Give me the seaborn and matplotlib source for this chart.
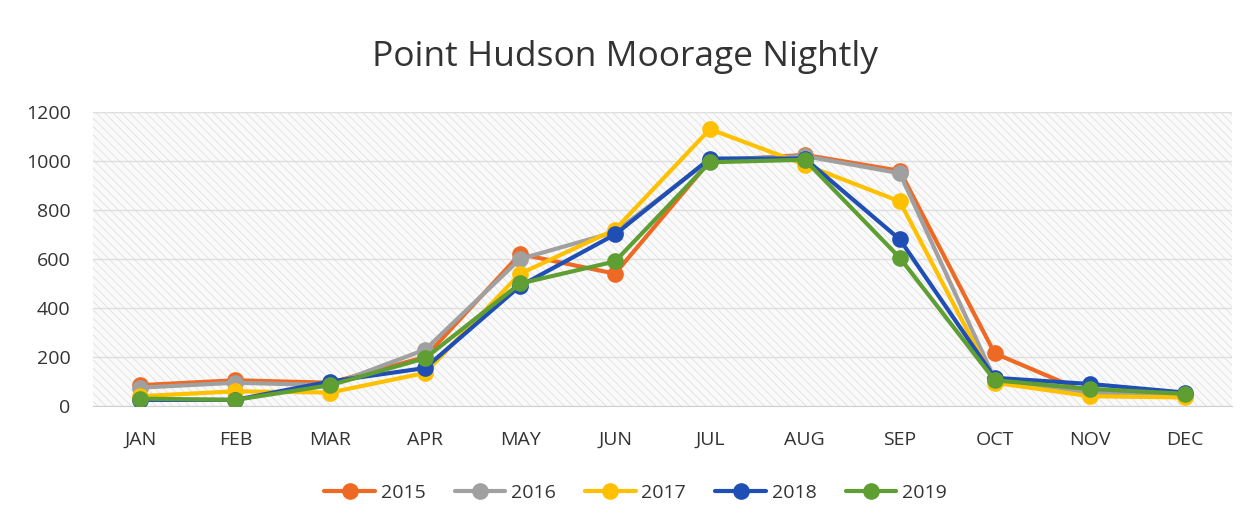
import pandas as pd
import matplotlib.pyplot as plt
import seaborn as sns
from matplotlib.patches import Rectangle

# Monthly nightly moorage counts
months = ['JAN', 'FEB', 'MAR', 'APR', 'MAY', 'JUN', 'JUL', 'AUG', 'SEP', 'OCT', 'NOV', 'DEC']
y2015 = [85, 105, 95, 200, 620, 540, 1000, 1025, 960, 215, 50, 45]
y2016 = [75, 95, 85, 230, 600, 710, 1005, 1020, 950, 110, 55, 45]
y2017 = [40, 60, 55, 135, 540, 720, 1130, 985, 835, 95, 40, 35]
y2018 = [25, 25, 100, 155, 490, 700, 1010, 1010, 680, 115, 90, 55]
y2019 = [30, 25, 85, 195, 500, 590, 995, 1005, 605, 105, 70, 50]
years = ['2015', '2016', '2017', '2018', '2019']
colors = ['#EE6A24', '#A0A0A0', '#FFC000', '#1F4FB5', '#5E9E32']

rows = []
for yr, vals in zip(years, [y2015, y2016, y2017, y2018, y2019]):
    for m, v in zip(months, vals):
        rows.append({'Month': m, 'Year': yr, 'Nights': v})
df = pd.DataFrame(rows)

sns.set_style('white')
plt.rcParams['font.family'] = ['Open Sans', 'DejaVu Sans']
plt.rcParams['hatch.linewidth'] = 0.6

fig = plt.figure(figsize=(12.51, 5.29), dpi=100)
ax = fig.add_axes([0.0743, 0.2325, 0.9105, 0.5558])

# hatched plot background like the scanned chart
ax.add_patch(Rectangle((0, 0), 1, 1, transform=ax.transAxes, facecolor='#fafafa',
                       edgecolor='#e0e0e0', hatch='\\\\\\\\', linewidth=0, zorder=0))

sns.lineplot(data=df, x='Month', y='Nights', hue='Year', palette=colors,
             marker='o', markersize=12, markeredgewidth=0, linewidth=3,
             sort=False, ax=ax, legend=False, zorder=3)

ax.set_xlim(-0.5, len(months) - 0.5)
ax.set_ylim(0, 1200)
ax.set_yticks(range(0, 1201, 200))
ax.yaxis.grid(True, color='#dedede', linewidth=1)
ax.set_axisbelow(True)
for s in ['top', 'right', 'left']:
    ax.spines[s].set_visible(False)
ax.spines['bottom'].set_color('#d0d0d0')
ax.set_xlabel('')
ax.set_ylabel('')
ax.tick_params(axis='both', length=0, labelsize=14, colors='#333333')
ax.tick_params(axis='x', pad=18)
ax.tick_params(axis='y', pad=16)

fig.suptitle('Point Hudson Moorage Nightly', fontsize=25.5, y=0.925, color='#333333')

handles = [plt.Line2D([], [], color=c, marker='o', markersize=12, linewidth=3,
                      markeredgewidth=0) for c in colors]
fig.legend(handles, years, loc='center', bbox_to_anchor=(0.508, 0.068), ncol=5,
           frameon=False, fontsize=14, handlelength=2.6, columnspacing=1.5,
           handletextpad=0.3, labelcolor='#333333')

plt.savefig('out.png', dpi=100)
